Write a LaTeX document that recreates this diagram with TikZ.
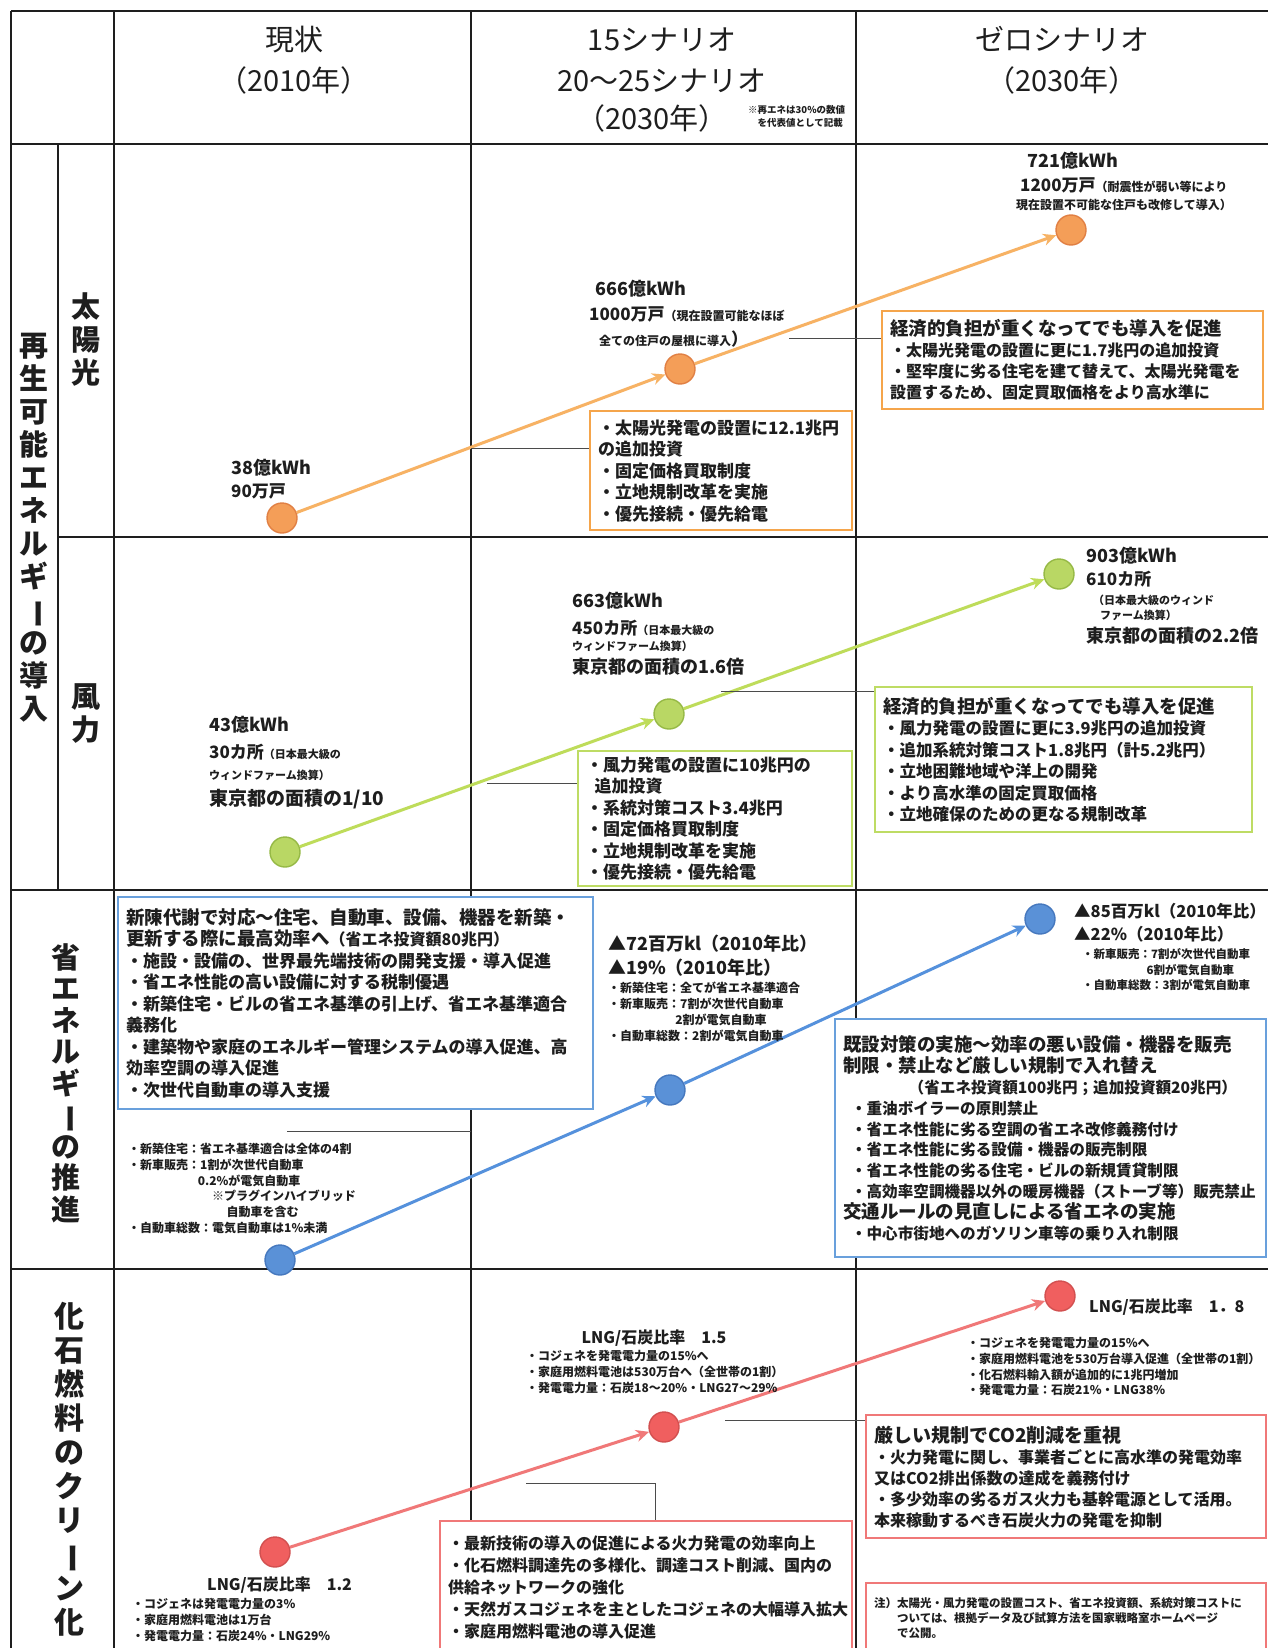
\documentclass[tikz,border=0pt]{standalone}
\usepackage{fontspec}
\setmainfont{Noto Sans CJK JP}
\usetikzlibrary{arrows.meta}
\definecolor{orL}{RGB}{247,178,100}
\definecolor{orC}{RGB}{244,158,88}
\definecolor{orD}{RGB}{225,128,68}
\definecolor{orB}{RGB}{245,165,75}
\definecolor{grL}{RGB}{190,220,90}
\definecolor{grC}{RGB}{185,215,100}
\definecolor{grD}{RGB}{150,185,70}
\definecolor{grB}{RGB}{190,220,100}
\definecolor{blL}{RGB}{85,145,220}
\definecolor{blC}{RGB}{90,145,215}
\definecolor{blD}{RGB}{70,120,190}
\definecolor{blB}{RGB}{105,160,220}
\definecolor{rdL}{RGB}{240,120,120}
\definecolor{rdC}{RGB}{240,95,95}
\definecolor{rdD}{RGB}{210,80,80}
\definecolor{rdB}{RGB}{240,120,120}
\definecolor{ink}{RGB}{30,30,30}
\newcommand{\mychoon}{\rotatebox[origin=c]{-90}{ー}}
\newcommand{\fs}[2]{\fontsize{#1}{#2}\selectfont}
\begin{document}
\begin{tikzpicture}[x=1pt,y=-1pt,
  grid/.style={line width=1.3, draw=ink},
  gridthick/.style={line width=2.6, draw=ink},
  lead/.style={line width=0.9, draw=ink!80},
  hdr/.style={align=center, inner sep=0, text=ink, font=\fs{29}{41}},
  vlab/.style={align=center, inner sep=0, text=ink, font=\fs{29}{33}\bfseries},
  num/.style={anchor=west, inner sep=0, text=ink, font=\fs{18}{20}\bfseries},
  sm/.style={anchor=west, inner sep=0, text=ink, font=\fs{12}{14}\bfseries},
  smblock/.style={anchor=north west, align=left, inner sep=0, text=ink, font=\fs{12}{15.8}\bfseries},
  box/.style={draw, fill=white, line width=2.4, anchor=north west, align=left, inner xsep=8, inner ysep=4, text=ink, font=\fs{17}{21.5}\bfseries},
  dot/.style={circle, minimum size=30, inner sep=0, line width=1.4},
  arr/.style={line width=3, -{Stealth[length=13, width=12]}}
]
\useasboundingbox (0,0) rectangle (1268,1648);
\fill[white] (0,0) rectangle (1268,1648);

% grid
\draw[gridthick] (11,11) -- (1268,11);
\draw[gridthick] (11,144) -- (1268,144);
\draw[grid] (11,11) -- (11,1648);
\draw[grid] (114,11) -- (114,1648);
\draw[grid] (58,144) -- (58,890);
\draw[grid] (471,11) -- (471,1648);
\draw[grid] (856,11) -- (856,1648);
\draw[grid] (58,537) -- (1268,537);
\draw[grid] (11,890) -- (1268,890);
\draw[grid] (11,1269) -- (1268,1269);

% header
\node[hdr] (h1) at (294,60) {現状\\（2010年）};
\node[hdr] (h2) at (662,60) {15シナリオ\\20〜25シナリオ};
\node[hdr] (h2b) at (652,118) {（2030年）};
\node[anchor=west, inner sep=0, align=left, text=ink, font=\fs{9.5}{13}\bfseries] (h2n) at (748,116) {※再エネは30\%の数値\\　を代表値として記載};
\node[hdr] (h3) at (1062,60) {ゼロシナリオ\\（2030年）};

% left labels
\node[vlab] (l1) at (34,528) {再\\生\\可\\能\\エ\\ネ\\ル\\ギ\\\mychoon\\の\\導\\入};
\node[vlab] (l2) at (86,340) {太\\陽\\光};
\node[vlab] (l3) at (86,714) {風\\力};
\node[vlab, font=\fs{29}{31.5}\bfseries] (l4) at (66,1083) {省\\エ\\ネ\\ル\\ギ\\\mychoon\\の\\推\\進};
\node[vlab, font=\fs{30}{34}\bfseries] (l5) at (69,1469) {化\\石\\燃\\料\\の\\ク\\リ\\\mychoon\\ン\\化};

% circles
\node[dot, fill=orC, draw=orD] (s1) at (282,518) {};
\node[dot, fill=orC, draw=orD] (s2) at (680,369) {};
\node[dot, fill=orC, draw=orD] (s3) at (1071,230) {};
\node[dot, fill=grC, draw=grD] (w1) at (285,852) {};
\node[dot, fill=grC, draw=grD] (w2) at (669,714) {};
\node[dot, fill=grC, draw=grD] (w3) at (1059,574) {};
\node[dot, fill=blC, draw=blD] (e1) at (280,1260) {};
\node[dot, fill=blC, draw=blD] (e2) at (670,1090) {};
\node[dot, fill=blC, draw=blD] (e3) at (1040,919) {};
\node[dot, fill=rdC, draw=rdD] (f1) at (275,1552) {};
\node[dot, fill=rdC, draw=rdD] (f2) at (664,1427) {};
\node[dot, fill=rdC, draw=rdD] (f3) at (1060,1296) {};

% arrows
\draw[arr, orL] (s1) -- (s2);
\draw[arr, orL] (s2) -- (s3);
\draw[arr, grL] (w1) -- (w2);
\draw[arr, grL] (w2) -- (w3);
\draw[arr, blL] (e1) -- (e2);
\draw[arr, blL] (e2) -- (e3);
\draw[arr, rdL] (f1) -- (f2);
\draw[arr, rdL] (f2) -- (f3);

% ---------- solar ----------
\node[num] (s3a) at (1027,161) {721億kWh};
\node[num, font=\fs{17}{20}\bfseries] (s3b) at (1020,185) {1200万戸{\fs{12}{14}\bfseries（耐震性が弱い等により}};
\node[sm] (s3c) at (1016,205) {現在設置不可能な住戸も改修して導入）};
\node[num] (s2a) at (595,289) {666億kWh};
\node[num, font=\fs{17}{20}\bfseries] (s2b) at (589,314) {1000万戸{\fs{12}{14}\bfseries（現在設置可能なほぼ}};
\node[sm] (s2c) at (599,339) {全ての住戸の屋根に導入{\fs{17}{20}）}};
\node[num] (s1a) at (231,468) {38億kWh};
\node[num, font=\fs{17}{20}\bfseries] (s1b) at (231,491) {90万戸};

\node[box, draw=orB, minimum width=262, minimum height=119, text width=246] (sb2) at (589,410)
 {・太陽光発電の設置に12.1兆円\\の追加投資\\・固定価格買取制度\\・立地規制改革を実施\\・優先接続・優先給電};
\node[box, draw=orB, minimum width=381, minimum height=98, text width=365, font=\fs{16}{21}\bfseries] (sb3) at (881,310)
 {{\fs{18.5}{21}\bfseries 経済的負担が重くなってでも導入を促進}\\・太陽光発電の設置に更に1.7兆円の追加投資\\・堅牢度に劣る住宅を建て替えて、太陽光発電を\\設置するため、固定買取価格をより高水準に};
\coordinate (ls1) at (471,448);
\draw[lead] (ls1) -- (ls1 -| sb2.west);
\coordinate (ls2) at (789,338);
\draw[lead] (ls2) -- (ls2 -| sb3.west);

% ---------- wind ----------
\node[num] (w3a) at (1086,556) {903億kWh};
\node[num, font=\fs{17}{20}\bfseries] (w3b) at (1086,579) {610カ所};
\node[sm, font=\fs{11}{13}\bfseries] (w3c) at (1093,600) {（日本最大級のウィンド};
\node[sm, font=\fs{11}{13}\bfseries] (w3d) at (1100,615) {ファーム換算）};
\node[num, font=\fs{18}{20}\bfseries] (w3e) at (1086,636) {東京都の面積の2.2倍};
\node[num] (w2a) at (572,601) {663億kWh};
\node[num, font=\fs{17}{20}\bfseries] (w2b) at (572,628) {450カ所{\fs{11}{13}\bfseries（日本最大級の}};
\node[sm, font=\fs{11}{13}\bfseries] (w2c) at (572,646) {ウィンドファーム換算）};
\node[num, font=\fs{18}{20}\bfseries] (w2d) at (572,667) {東京都の面積の1.6倍};
\node[num] (w1a) at (209,725) {43億kWh};
\node[num, font=\fs{17}{20}\bfseries] (w1b) at (209,752) {30カ所{\fs{11}{13}\bfseries（日本最大級の}};
\node[sm, font=\fs{11}{13}\bfseries] (w1c) at (209,775) {ウィンドファーム換算）};
\node[num, font=\fs{19}{20}\bfseries] (w1d) at (209,799) {東京都の面積の1/10};

\node[box, draw=grB, minimum width=274, minimum height=135, text width=258] (wb2) at (577,750)
 {・風力発電の設置に10兆円の\\\hspace*{0.5em}追加投資\\・系統対策コスト3.4兆円\\・固定価格買取制度\\・立地規制改革を実施\\・優先接続・優先給電};
\node[box, draw=grB, minimum width=377, minimum height=145, text width=361, font=\fs{16.5}{21.5}\bfseries] (wb3) at (874,686)
 {{\fs{18.5}{21}\bfseries 経済的負担が重くなってでも導入を促進}\\・風力発電の設置に更に3.9兆円の追加投資\\・追加系統対策コスト1.8兆円（計5.2兆円）\\・立地困難地域や洋上の開発\\・より高水準の固定買取価格\\・立地確保のための更なる規制改革};
\coordinate (lw1) at (487,783);
\draw[lead] (lw1) -- (lw1 -| wb2.west);
\coordinate (lw2) at (721,691);
\draw[lead] (lw2) -- (lw2 -| wb3.west);

% ---------- energy saving ----------
\node[box, draw=blB, minimum width=475, minimum height=212, text width=459] (eb1) at (117,896)
 {{\fs{18.5}{22}\bfseries 新陳代謝で対応〜住宅、自動車、設備、機器を新築・}\\{\fs{18.5}{22}\bfseries 更新する際に最高効率へ}{\fs{16}{20}（省エネ投資額80兆円）}\\・施設・設備の、世界最先端技術の開発支援・導入促進\\・省エネ性能の高い設備に対する税制優遇\\・新築住宅・ビルの省エネ基準の引上げ、省エネ基準適合\\義務化\\・建築物や家庭のエネルギー管理システムの導入促進、高\\効率空調の導入促進\\・次世代自動車の導入支援};
\coordinate (le1) at (287,1131);
\draw[lead] (le1) -- (471,1131);

\node[num] (e2a) at (608,944) {▲72百万kl（2010年比）};
\node[num] (e2b) at (608,968) {▲19\%（2010年比）};
\node[smblock] (e2c) at (608,982) {・新築住宅：全てが省エネ基準適合\\・新車販売：7割が次世代自動車\\\hspace*{5.6em}2割が電気自動車\\・自動車総数：2割が電気自動車};
\node[num, font=\fs{16.5}{20}\bfseries] (e3a) at (1074,911) {▲85百万kl（2010年比）};
\node[num, font=\fs{16.5}{20}\bfseries] (e3b) at (1074,934) {▲22\%（2010年比）};
\node[smblock, font=\fs{11.5}{15.8}\bfseries] (e3c) at (1082,948) {・新車販売：7割が次世代自動車\\\hspace*{5.6em}6割が電気自動車\\・自動車総数：3割が電気自動車};
\node[smblock] (e1c) at (128,1143) {・新築住宅：省エネ基準適合は全体の4割\\・新車販売：1割が次世代自動車\\\hspace*{5.8em}0.2\%が電気自動車\\\hspace*{7em}※プラグインハイブリッド\\\hspace*{8.2em}自動車を含む\\・自動車総数：電気自動車は1\%未満};

\node[box, draw=blB, minimum width=431, minimum height=238, text width=415, font=\fs{15.6}{20.8}\bfseries] (eb3) at (834,1018)
 {{\fs{18.5}{22}\bfseries 既設対策の実施〜効率の悪い設備・機器を販売}\\{\fs{18.5}{22}\bfseries 制限・禁止など厳しい規制で入れ替え}\\\hspace*{4.2em}（省エネ投資額100兆円；追加投資額20兆円）\\\hspace*{0.5em}・重油ボイラーの原則禁止\\\hspace*{0.5em}・省エネ性能に劣る空調の省エネ改修義務付け\\\hspace*{0.5em}・省エネ性能に劣る設備・機器の販売制限\\\hspace*{0.5em}・省エネ性能の劣る住宅・ビルの新規賃貸制限\\\hspace*{0.5em}・高効率空調機器以外の暖房機器（ストーブ等）販売禁止\\{\fs{18.5}{22}\bfseries 交通ルールの見直しによる省エネの実施}\\\hspace*{0.5em}・中心市街地へのガソリン車等の乗り入れ制限};

% ---------- fossil ----------
\node[num, anchor=center, font=\fs{16}{18}\bfseries] (f2a) at (654,1338) {LNG/石炭比率　1.5};
\node[smblock] (f2b) at (526,1350) {・コジェネを発電電力量の15\%へ\\・家庭用燃料電池は530万台へ（全世帯の1割）\\・発電電力量：石炭18〜20\%・LNG27〜29\%};
\node[num, font=\fs{16}{18}\bfseries] (f3a) at (1089,1307) {LNG/石炭比率　1．8};
\node[smblock] (f3b) at (967,1337) {・コジェネを発電電力量の15\%へ\\・家庭用燃料電池を530万台導入促進（全世帯の1割）\\・化石燃料輸入額が追加的に1兆円増加\\・発電電力量：石炭21\%・LNG38\%};
\node[num, font=\fs{16}{18}\bfseries] (f1a) at (207,1585) {LNG/石炭比率　1.2};
\node[smblock] (f1b) at (132,1598) {・コジェネは発電電力量の3\%\\・家庭用燃料電池は1万台\\・発電電力量：石炭24\%・LNG29\%};

\node[box, draw=rdB, minimum width=400, minimum height=123, text width=384, font=\fs{16}{21}\bfseries] (fb3) at (865,1414)
 {{\fs{19}{22}\bfseries 厳しい規制でCO2削減を重視}\\・火力発電に関し、事業者ごとに高水準の発電効率\\又はCO2排出係数の達成を義務付け\\・多少効率の劣るガス火力も基幹電源として活用。\\本来稼動するべき石炭火力の発電を抑制};
\node[box, draw=rdB, minimum width=412, minimum height=132, text width=396, font=\fs{16}{22}\bfseries] (fb2) at (439,1520)
 {・最新技術の導入の促進による火力発電の効率向上\\・化石燃料調達先の多様化、調達コスト削減、国内の\\供給ネットワークの強化\\・天然ガスコジェネを主としたコジェネの大幅導入拡大\\・家庭用燃料電池の導入促進};
\node[box, draw=rdB, minimum width=400, minimum height=70, text width=384, font=\fs{11.5}{15}\bfseries] (fb4) at (865,1582)
 {注）太陽光・風力発電の設置コスト、省エネ投資額、系統対策コストに\\\hspace*{2em}ついては、根拠データ及び試算方法を国家戦略室ホームページ\\\hspace*{2em}で公開。};
\coordinate (lf1) at (725,1420);
\draw[lead] (lf1) -- (lf1 -| fb3.west);
\coordinate (lf2) at (526,1483);
\draw[lead] (lf2) -- (655,1483) -- (655,1520);
\end{tikzpicture}
\end{document}
